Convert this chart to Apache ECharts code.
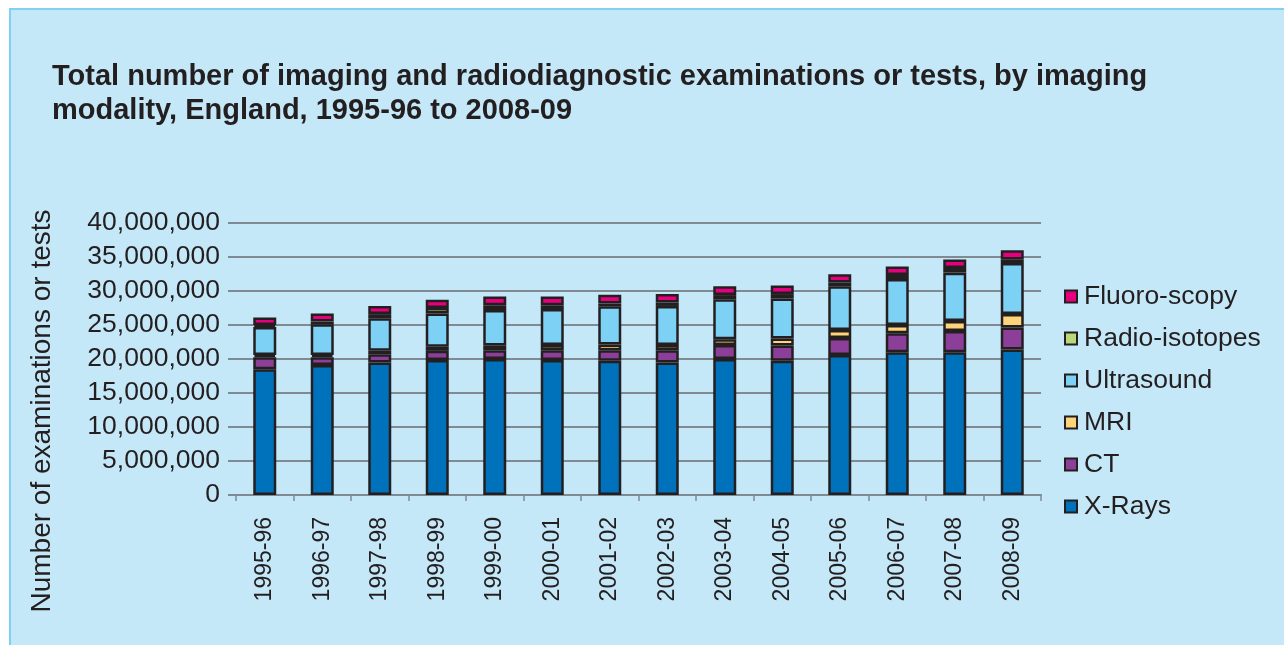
<!DOCTYPE html>
<html>
<head>
<meta charset="utf-8">
<script src="https://cdn.jsdelivr.net/npm/echarts@6/dist/echarts.min.js"></script>
<style>
  html, body { margin: 0; padding: 0; background: #fff; }
  #main { width: 1284px; height: 645px; }
</style>
</head>
<body>
<div id="main"></div>
<script>
var years = ['1995-96', '1996-97', '1997-98', '1998-99', '1999-00', '2000-01', '2001-02',
    '2002-03', '2003-04', '2004-05', '2005-06', '2006-07', '2007-08', '2008-09'];

// values
var xRays = [18500000, 19100000, 19500000, 19850000, 20000000, 19850000, 19750000,
    19500000, 20000000, 19750000, 20600000, 21000000, 21000000, 21400000];
var ct = [1750000, 1150000, 1200000, 1350000, 1300000, 1450000, 1550000,
    1800000, 2050000, 2250000, 2500000, 2800000, 3100000, 3250000];
var mri = [350000, 350000, 500000, 600000, 700000, 750000, 850000,
    750000, 850000, 1000000, 1150000, 1200000, 1500000, 1950000];
var ultrasound = [4100000, 4500000, 4800000, 4900000, 5200000, 5300000, 5600000,
    5750000, 5900000, 5900000, 6450000, 6750000, 7100000, 7500000];
var radioIsotopes = [300000, 400000, 600000, 800000, 700000, 550000, 400000,
    500000, 600000, 650000, 550000, 600000, 700000, 550000];
var fluoroscopy = [1100000, 1200000, 1200000, 1200000, 1300000, 1300000, 1300000,
    1250000, 1300000, 1250000, 1200000, 1250000, 1250000, 1350000];

var yTicks = [0, 5000000, 10000000, 15000000, 20000000, 25000000, 30000000, 35000000, 40000000];

var modalities = [
    { name: 'X-Rays', data: xRays, color: '#0071bb' },
    { name: 'CT', data: ct, color: '#8c3f98' },
    { name: 'MRI', data: mri, color: '#fdd47a' },
    { name: 'Ultrasound', data: ultrasound, color: '#7dd1f4' },
    { name: 'Radio-isotopes', data: radioIsotopes, color: '#b8d879' },
    { name: 'Fluoro-scopy', data: fluoroscopy, color: '#e6007e' }
];

var ink = '#231f20';
var gridGrey = '#7f8a93';
var font = 'Liberation Sans, Arial, sans-serif';

var myChart = echarts.init(document.getElementById('main'));

myChart.setOption({
    backgroundColor: '#ffffff',
    textStyle: { fontFamily: font },
    graphic: [{
        type: 'rect',
        z: -10,
        shape: { x: 10, y: 9, width: 1290, height: 660 },
        style: { fill: '#c5e8f8', stroke: '#7fd0f3', lineWidth: 2 }
    }, {
        // y axis title, placed by hand so it sits where the original has it
        type: 'text',
        x: 42,
        y: 411,
        rotation: Math.PI / 2,
        style: {
            text: 'Number of examinations or tests',
            font: '28px ' + font,
            fill: ink,
            align: 'center',
            verticalAlign: 'middle'
        }
    }],
    title: {
        text: 'Total number of imaging and radiodiagnostic examinations or tests, by imaging\nmodality, England, 1995-96 to 2008-09',
        left: 47,
        top: 55,
        textStyle: {
            fontSize: 29,
            fontWeight: 'bold',
            color: ink,
            lineHeight: 34,
            fontFamily: font
        }
    },
    legend: {
        orient: 'vertical',
        left: 1064,
        top: 283,
        padding: 0,
        itemWidth: 12,
        itemHeight: 12,
        itemGap: 15,
        icon: 'rect',
        data: ['Fluoro-scopy', 'Radio-isotopes', 'Ultrasound', 'MRI', 'CT', 'X-Rays'],
        itemStyle: { borderColor: ink, borderWidth: 2 },
        textStyle: { fontSize: 26.5, color: ink, lineHeight: 26, padding: [0, 0, 0, 2] }
    },
    grid: { left: 236, right: 243, top: 223, bottom: 150 },
    xAxis: {
        type: 'category',
        data: years,
        axisLine: { lineStyle: { color: gridGrey, width: 2 } },
        axisTick: { show: true, length: 6, lineStyle: { color: gridGrey, width: 1.5 } },
        axisLabel: { rotate: 90, fontSize: 23, color: ink, margin: 22 }
    },
    yAxis: {
        type: 'value',
        min: yTicks[0],
        max: yTicks[yTicks.length - 1],
        interval: yTicks[1] - yTicks[0],
        axisLine: { show: false },
        axisTick: { show: true, length: 8, lineStyle: { color: gridGrey, width: 2 } },
        splitLine: { lineStyle: { color: gridGrey, width: 2 } },
        axisLabel: {
            fontSize: 26.5,
            color: ink,
            margin: 16,
            formatter: function (v) {
                return String(v).replace(/\B(?=(\d{3})+(?!\d))/g, ',');
            }
        }
    },
    series: modalities.map(function (m) {
        return {
            name: m.name,
            type: 'bar',
            stack: 'total',
            barWidth: 23,
            data: m.data,
            itemStyle: { color: m.color, borderColor: ink, borderWidth: 2.5 }
        };
    })
});
</script>
</body>
</html>
